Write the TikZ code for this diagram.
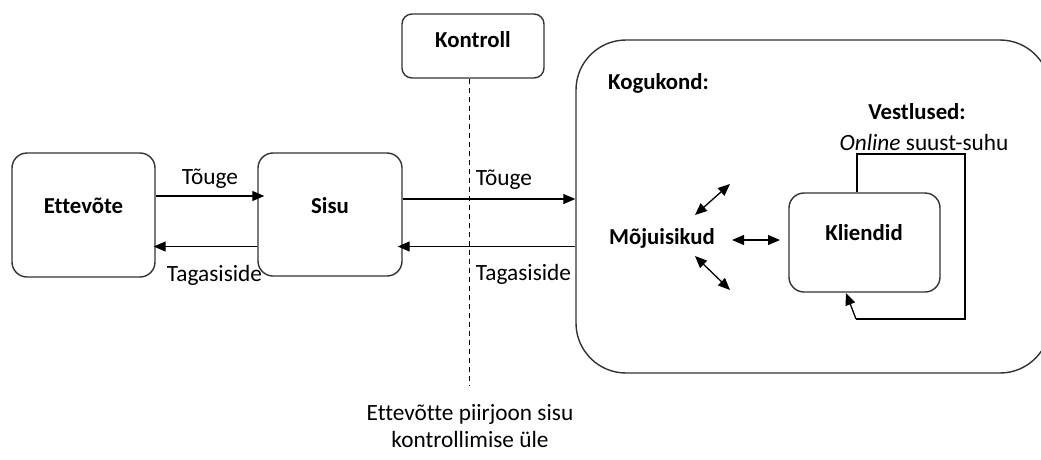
\documentclass[tikz,border=0pt]{standalone}
\usepackage{fontspec}
\setmainfont{Carlito}[Ligatures={NoCommon}]
\usetikzlibrary{arrows.meta}
\begin{document}
\begin{tikzpicture}[x=1pt,y=-1pt,
  every node/.style={font=\fontsize{23.3}{27}\selectfont, inner sep=0pt},
  box/.style={draw=black!80, line width=1.4pt, rounded corners=15pt},
  lbl/.style={font=\fontsize{22.8}{27}\selectfont\bfseries},
  conn/.style={line width=1.3pt, -{Triangle[length=12pt,width=10pt]}},
  dconn/.style={line width=1.3pt, {Triangle[length=12pt,width=10pt]}-{Triangle[length=12pt,width=10pt]}},
  plain/.style={line width=1.3pt},
]
\useasboundingbox (0,0) rectangle (1041,459);

% boxes
\node[box, minimum width=143pt, minimum height=124pt] (ett) at (83.5,215) {};
\node[box, minimum width=144pt, minimum height=123pt] (sisu) at (330,214.5) {};
\node[box, rounded corners=10pt, minimum width=142pt, minimum height=64pt] (kon) at (473,46) {};
\node[box, rounded corners=50pt, minimum width=474pt, minimum height=333pt] (kog) at (813,206.5) {};
\node[box, minimum width=151pt, minimum height=99pt] (kli) at (864.5,242.5) {};

% texts in boxes
\node[lbl] (ettT) at (83.5,206) {Ettevõte};
\node[lbl] (sisuT) at (330,206) {Sisu};
\node[lbl] (konT) at (473,40) {Kontroll};
\node[lbl] (kliT) at (864,233) {Kliendid};
\node[lbl, anchor=west] (kogT) at (608,83) {Kogukond:};
\node[lbl] (vestT) at (917,112) {Vestlused:};
\node (onl) at (924,142) {\textit{Online} suust-suhu};
\node[lbl] (moj) at (662,238) {Mõjuisikud};

% arrows between boxes
\draw[conn, shorten >=-7pt] ([yshift=19pt]ett.east) -- ([yshift=19pt]ett.east -| sisu.west);
\draw[conn, shorten >=-2pt] ([yshift=-32pt]sisu.west) -- ([yshift=-32pt]sisu.west -| ett.east);
\draw[conn] ([yshift=15.5pt]sisu.east) -- ([yshift=15.5pt]sisu.east -| kog.west);
\draw[conn, shorten >=-5pt] ([yshift=-32pt]sisu.east -| kog.west) -- ([yshift=-32pt]sisu.east);

\node (t1) at (210,179) {Tõuge};
\node (g1) at (214.5,275) {Tagasiside};
\node (t2) at (504,180) {Tõuge};
\node (g2) at (523.5,274) {Tagasiside};

% control boundary
\coordinate (dl) at (469,385);
\draw[line width=1pt, dash pattern=on 5pt off 4pt] (kon.south -| dl) -- (dl);
\node[align=center] (piir) at (470,426) {Ettevõtte piirjoon sisu\\kontrollimise üle};

% influencer arrows
\coordinate (h1) at (732,240);
\coordinate (h2) at (780,240);
\coordinate (u1) at (695,215);
\coordinate (u2) at (730,184);
\coordinate (d1) at (695,256);
\coordinate (d2) at (730,290);
\draw[dconn] (h1) -- (h2);
\draw[dconn] (u1) -- (u2);
\draw[dconn] (d1) -- (d2);

% conversation loop
\coordinate (c1) at (857,154);
\coordinate (c2) at (965,154);
\coordinate (c3) at (965,319);
\coordinate (c4) at (856,319);
\coordinate (c5) at (846,293);
\draw[plain] (kli.north -| c1) -- (c1) -- (c2) -- (c3) -- (c4);
\draw[conn] (c4) -- (c5);
\end{tikzpicture}
\end{document}
